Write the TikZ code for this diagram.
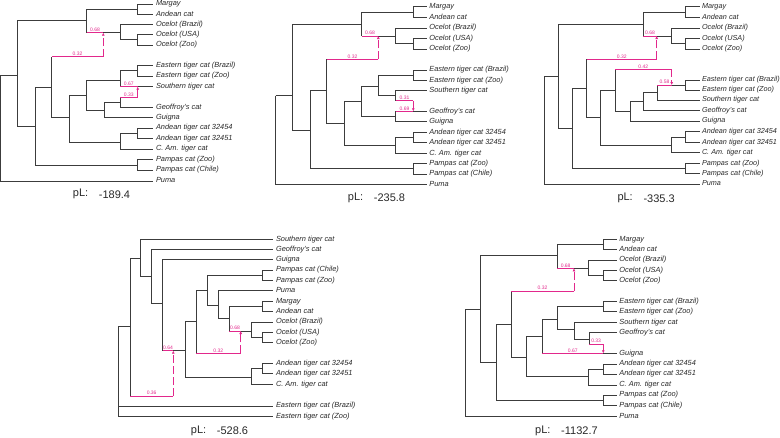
\documentclass[tikz,border=0pt]{standalone}
\usepackage{fontspec}
\setmainfont{Liberation Sans}
\usetikzlibrary{arrows.meta}
\definecolor{pinkc}{RGB}{226,40,140}
\definecolor{linec}{RGB}{60,60,60}
\definecolor{textc}{RGB}{40,40,40}
\newcommand{\leafn}[4]{\node[leaflab] (#1) at (#2,#3) {#4};}
\newcommand{\leafc}[4]{\node[leaflabc] (#1) at (#2,#3) {#4};}
\newcommand{\hmaj}[3]{\draw[br] (#1) -- (#1 |- #2); \draw[hy] (#1 |- #2) -- node[num]{#3} (#2);}
\newcommand{\hmin}[4]{\draw[br] (#1) -- (#1 |- #2); \draw[hy] (#1 |- #2) -- node[num]{#4} (#2); \draw[hyd] (#2) -- (#3);}
\newcommand{\plab}[5]{\node[pltext] (#1a) at (#2,#4) {pL:}; \node[pltext] (#1b) at (#3,#4) {#5};}
\begin{document}
\begin{tikzpicture}[x=1pt,y=-1pt,
  br/.style={draw=linec,line width=0.85pt},
  hy/.style={draw=pinkc,line width=0.85pt},
  hyd/.style={draw=pinkc,line width=0.85pt,dash pattern=on 8pt off 3pt,-{Latex[length=3pt,width=3pt]}},
  leaflab/.style={anchor=west,inner xsep=2.5pt,inner ysep=0pt,text height=5.3pt,text depth=1.5pt,font=\fontsize{7.4}{8}\selectfont\itshape,text=textc},
  leaflabc/.style={anchor=west,inner xsep=1.8pt,inner ysep=0pt,text height=5.3pt,text depth=1.5pt,font=\fontsize{7.25}{8}\selectfont\itshape,text=textc},
  num/.style={above,inner sep=0.6pt,font=\fontsize{5}{5}\selectfont,text=pinkc},
  pltext/.style={anchor=west,inner sep=0pt,font=\fontsize{11}{12}\selectfont,text=textc}]
\useasboundingbox (0,0) rectangle (780,437);

% ================= Tree 1 =================
\leafn{aMargay}{153.3}{4}{Margay}
\leafn{aAndean}{153.3}{14.3}{Andean cat}
\leafn{aOcBr}{153.3}{24.3}{Ocelot (Brazil)}
\leafn{aOcUS}{153.3}{34.3}{Ocelot (USA)}
\leafn{aOcZoo}{153.3}{45}{Ocelot (Zoo)}
\leafn{aEBr}{153.3}{65.7}{Eastern tiger cat (Brazil)}
\leafn{aEZoo}{153.3}{76}{Eastern tiger cat (Zoo)}
\leafn{aSouth}{153.3}{86.7}{Southern tiger cat}
\leafn{aGeof}{153.3}{107.3}{Geoffroy's cat}
\leafn{aGuig}{153.3}{117.7}{Guigna}
\leafn{aA54}{153.3}{128}{Andean tiger cat 32454}
\leafn{aA51}{153.3}{138.3}{Andean tiger cat 32451}
\leafn{aCAm}{153.3}{149}{C. Am. tiger cat}
\leafn{aPZoo}{153.3}{159.3}{Pampas cat (Zoo)}
\leafn{aPCh}{153.3}{170}{Pampas cat (Chile)}
\leafn{aPuma}{153.3}{181}{Puma}
\coordinate (aR) at (0.7,75);
\coordinate (aA) at (17.3,75);
\coordinate (aB) at (86.7,20.7);
\coordinate (aMA) at (137.7,9.3);
\coordinate (aH1) at (103.3,32.7);
\coordinate (aOc) at (120,32.7);
\coordinate (aOUZ) at (137.7,39.3);
\coordinate (aC) at (35,126.7);
\coordinate (aD) at (51.7,87.3);
\coordinate (aM1) at (103.3,56.7);
\coordinate (aPN) at (137.7,165);
\coordinate (aE) at (69,117.3);
\coordinate (aF) at (86.7,95);
\coordinate (aAC) at (120,142.7);
\coordinate (aAN) at (137.7,133.3);
\coordinate (aG) at (120,80);
\coordinate (aEN) at (137.7,70.7);
\coordinate (aH2) at (137.7,86.7);
\coordinate (aHn) at (104,110);
\coordinate (aI) at (120,102.7);
\coordinate (aM2) at (137.7,97.3);
\draw[br] (aR) |- (aA);
\draw[br] (aR) |- (aPuma.west);
\draw[br] (aA) |- (aB);
\draw[br] (aA) |- (aC);
\draw[br] (aB) |- (aMA);
\hmaj{aB}{aH1}{0.68}
\draw[br] (aMA) |- (aMargay.west);
\draw[br] (aMA) |- (aAndean.west);
\draw[br] (aH1) -- (aOc);
\draw[br] (aOc) |- (aOcBr.west);
\draw[br] (aOc) |- (aOUZ);
\draw[br] (aOUZ) |- (aOcUS.west);
\draw[br] (aOUZ) |- (aOcZoo.west);
\draw[br] (aC) |- (aD);
\draw[br] (aC) |- (aPN);
\draw[br] (aPN) |- (aPZoo.west);
\draw[br] (aPN) |- (aPCh.west);
\hmin{aD}{aM1}{aH1}{0.32}
\draw[br] (aD) |- (aE);
\draw[br] (aE) |- (aF);
\draw[br] (aE) |- (aAC);
\draw[br] (aAC) |- (aAN);
\draw[br] (aAC) |- (aCAm.west);
\draw[br] (aAN) |- (aA54.west);
\draw[br] (aAN) |- (aA51.west);
\draw[br] (aF) |- (aG);
\draw[br] (aF) |- (aHn);
\draw[br] (aG) |- (aEN);
\hmaj{aG}{aH2}{0.67}
\draw[br] (aEN) |- (aEBr.west);
\draw[br] (aEN) |- (aEZoo.west);
\draw[br] (aH2) -- (aSouth.west);
\draw[br] (aHn) |- (aI);
\draw[br] (aHn) |- (aGuig.west);
\draw[br] (aI) |- (aGeof.west);
\hmin{aI}{aM2}{aH2}{0.33}
\plab{pa}{72.7}{98.7}{194.3}{-189.4}

% ================= Tree 2 =================
\leafn{bMargay}{426.7}{6.7}{Margay}
\leafn{bAndean}{426.7}{17.3}{Andean cat}
\leafn{bOcBr}{426.7}{28}{Ocelot (Brazil)}
\leafn{bOcUS}{426.7}{38.7}{Ocelot (USA)}
\leafn{bOcZoo}{426.7}{49}{Ocelot (Zoo)}
\leafn{bEBr}{426.7}{70}{Eastern tiger cat (Brazil)}
\leafn{bEZoo}{426.7}{80.3}{Eastern tiger cat (Zoo)}
\leafn{bSouth}{426.7}{90.7}{Southern tiger cat}
\leafn{bGeof}{426.7}{111.3}{Geoffroy's cat}
\leafn{bGuig}{426.7}{121.7}{Guigna}
\leafn{bA54}{426.7}{132.3}{Andean tiger cat 32454}
\leafn{bA51}{426.7}{142.7}{Andean tiger cat 32451}
\leafn{bCAm}{426.7}{153.3}{C. Am. tiger cat}
\leafn{bPZoo}{426.7}{163.7}{Pampas cat (Zoo)}
\leafn{bPCh}{426.7}{174}{Pampas cat (Chile)}
\leafn{bPuma}{426.7}{184.3}{Puma}
\coordinate (bR) at (275.7,95.7);
\coordinate (bA) at (292.3,95.7);
\coordinate (bB) at (361.7,24);
\coordinate (bMA) at (413.3,12.7);
\coordinate (bH1) at (378.3,36);
\coordinate (bOc) at (395.7,36);
\coordinate (bOUZ) at (413.3,43.3);
\coordinate (bC) at (310,130);
\coordinate (bD) at (326.7,90.7);
\coordinate (bM1) at (378.3,59.3);
\coordinate (bPN) at (413.3,168.3);
\coordinate (bE) at (344,123.3);
\coordinate (bF) at (361.7,101);
\coordinate (bAC) at (395.7,145.7);
\coordinate (bAN) at (413.3,137.5);
\coordinate (bG) at (378.3,86);
\coordinate (bEN) at (413.3,75);
\coordinate (bS) at (395.7,95.7);
\coordinate (bM2) at (413.3,100.7);
\coordinate (bH2) at (413.3,111.3);
\coordinate (bHn) at (395.7,116);
\draw[br] (bR) |- (bA);
\draw[br] (bR) |- (bPuma.west);
\draw[br] (bA) |- (bB);
\draw[br] (bA) |- (bC);
\draw[br] (bB) |- (bMA);
\hmaj{bB}{bH1}{0.68}
\draw[br] (bMA) |- (bMargay.west);
\draw[br] (bMA) |- (bAndean.west);
\draw[br] (bH1) -- (bOc);
\draw[br] (bOc) |- (bOcBr.west);
\draw[br] (bOc) |- (bOUZ);
\draw[br] (bOUZ) |- (bOcUS.west);
\draw[br] (bOUZ) |- (bOcZoo.west);
\draw[br] (bC) |- (bD);
\draw[br] (bC) |- (bPN);
\draw[br] (bPN) |- (bPZoo.west);
\draw[br] (bPN) |- (bPCh.west);
\hmin{bD}{bM1}{bH1}{0.32}
\draw[br] (bD) |- (bE);
\draw[br] (bE) |- (bF);
\draw[br] (bE) |- (bAC);
\draw[br] (bAC) |- (bAN);
\draw[br] (bAC) |- (bCAm.west);
\draw[br] (bAN) |- (bA54.west);
\draw[br] (bAN) |- (bA51.west);
\draw[br] (bF) |- (bG);
\draw[br] (bF) |- (bHn);
\draw[br] (bG) |- (bEN);
\draw[br] (bG) |- (bS);
\draw[br] (bEN) |- (bEBr.west);
\draw[br] (bEN) |- (bEZoo.west);
\draw[br] (bS) |- (bSouth.west);
\hmin{bS}{bM2}{bH2}{0.31}
\hmaj{bHn}{bH2}{0.69}
\draw[br] (bHn) |- (bGuig.west);
\draw[br] (bH2) -- (bGeof.west);
\plab{pb}{347.7}{373.7}{198}{-235.8}

% ================= Tree 3 =================
\leafc{cMargay}{700}{6.7}{Margay}
\leafc{cAndean}{700}{17.3}{Andean cat}
\leafc{cOcBr}{700}{28}{Ocelot (Brazil)}
\leafc{cOcUS}{700}{38.7}{Ocelot (USA)}
\leafc{cOcZoo}{700}{49}{Ocelot (Zoo)}
\leafc{cEBr}{700}{80}{Eastern tiger cat (Brazil)}
\leafc{cEZoo}{700}{90}{Eastern tiger cat (Zoo)}
\leafc{cSouth}{700}{100}{Southern tiger cat}
\leafc{cGeof}{700}{110.7}{Geoffroy's cat}
\leafc{cGuig}{700}{121}{Guigna}
\leafc{cA54}{700}{131.7}{Andean tiger cat 32454}
\leafc{cA51}{700}{142.3}{Andean tiger cat 32451}
\leafc{cCAm}{700}{152.7}{C. Am. tiger cat}
\leafc{cPZoo}{700}{163.3}{Pampas cat (Zoo)}
\leafc{cPCh}{700}{173.3}{Pampas cat (Chile)}
\leafc{cPuma}{700}{184}{Puma}
\coordinate (cR) at (544.3,76);
\coordinate (cA) at (558.3,76);
\coordinate (cB) at (643.3,24);
\coordinate (cMA) at (685.7,12.7);
\coordinate (cH1) at (656.7,36);
\coordinate (cOc) at (671.7,36);
\coordinate (cOUZ) at (685.7,43.3);
\coordinate (cC) at (572.3,128.3);
\coordinate (cD) at (586.7,88.3);
\coordinate (cM1) at (656.7,59.3);
\coordinate (cPN) at (685.7,168.3);
\coordinate (cE) at (600.7,117.7);
\coordinate (cF) at (615,90.7);
\coordinate (cAC) at (671.7,145);
\coordinate (cAN) at (685.7,137);
\coordinate (cM2) at (671.7,69.3);
\coordinate (cH2) at (671.7,85);
\coordinate (cEN) at (685.7,85);
\coordinate (cI) at (630,111.2);
\coordinate (cHn) at (643.3,101.5);
\coordinate (cG) at (657.3,92.3);
\draw[br] (cR) |- (cA);
\draw[br] (cR) |- (cPuma.west);
\draw[br] (cA) |- (cB);
\draw[br] (cA) |- (cC);
\draw[br] (cB) |- (cMA);
\hmaj{cB}{cH1}{0.68}
\draw[br] (cMA) |- (cMargay.west);
\draw[br] (cMA) |- (cAndean.west);
\draw[br] (cH1) -- (cOc);
\draw[br] (cOc) |- (cOcBr.west);
\draw[br] (cOc) |- (cOUZ);
\draw[br] (cOUZ) |- (cOcUS.west);
\draw[br] (cOUZ) |- (cOcZoo.west);
\draw[br] (cC) |- (cD);
\draw[br] (cC) |- (cPN);
\draw[br] (cPN) |- (cPZoo.west);
\draw[br] (cPN) |- (cPCh.west);
\hmin{cD}{cM1}{cH1}{0.32}
\draw[br] (cD) |- (cE);
\draw[br] (cE) |- (cF);
\draw[br] (cE) |- (cAC);
\draw[br] (cAC) |- (cAN);
\draw[br] (cAC) |- (cCAm.west);
\draw[br] (cAN) |- (cA54.west);
\draw[br] (cAN) |- (cA51.west);
\hmin{cF}{cM2}{cH2}{0.42}
\draw[br] (cF) |- (cI);
\draw[br] (cI) |- (cHn);
\draw[br] (cI) |- (cGuig.west);
\draw[br] (cHn) |- (cG);
\draw[br] (cHn) |- (cGeof.west);
\hmaj{cG}{cH2}{0.58}
\draw[br] (cG) |- (cSouth.west);
\draw[br] (cH2) -- (cEN);
\draw[br] (cEN) |- (cEBr.west);
\draw[br] (cEN) |- (cEZoo.west);
\plab{pc}{617.3}{643.3}{198.3}{-335.3}

% ================= Tree 4 =================
\leafn{dSouth}{273.3}{239.3}{Southern tiger cat}
\leafn{dGeof}{273.3}{249.3}{Geoffroy's cat}
\leafn{dGuig}{273.3}{259.7}{Guigna}
\leafn{dPCh}{273.3}{270}{Pampas cat (Chile)}
\leafn{dPZoo}{273.3}{280.3}{Pampas cat (Zoo)}
\leafn{dPuma}{273.3}{290.7}{Puma}
\leafn{dMargay}{273.3}{301.3}{Margay}
\leafn{dAndean}{273.3}{311.5}{Andean cat}
\leafn{dOcBr}{273.3}{322}{Ocelot (Brazil)}
\leafn{dOcUS}{273.3}{332.5}{Ocelot (USA)}
\leafn{dOcZoo}{273.3}{342.7}{Ocelot (Zoo)}
\leafn{dA54}{273.3}{363.3}{Andean tiger cat 32454}
\leafn{dA51}{273.3}{373.8}{Andean tiger cat 32451}
\leafn{dCAm}{273.3}{384.2}{C. Am. tiger cat}
\leafn{dEBr}{273.3}{406}{Eastern tiger cat (Brazil)}
\leafn{dEZoo}{273.3}{416.3}{Eastern tiger cat (Zoo)}
\coordinate (dR) at (118.3,326.7);
\coordinate (dA) at (130,326.7);
\coordinate (dB) at (140.7,258.3);
\coordinate (dM0) at (173.3,396);
\coordinate (dHy) at (173.3,350.7);
\coordinate (dC) at (151.7,276);
\coordinate (dD) at (162.7,303.3);
\coordinate (dE) at (185,350.7);
\coordinate (dF) at (196,321.7);
\coordinate (dAC) at (251.7,377.3);
\coordinate (dAN) at (262.3,368.5);
\coordinate (dG) at (207.3,290);
\coordinate (dM1) at (240.7,353.3);
\coordinate (dH1) at (240.7,331);
\coordinate (dPN) at (262.3,275);
\coordinate (dHh) at (218.3,305);
\coordinate (dI) at (229.3,318);
\coordinate (dMA) at (262.3,306.3);
\coordinate (dOc) at (251.7,331);
\coordinate (dOUZ) at (262.3,337.6);
\draw[br] (dR) |- (dA);
\draw[br] (dR) |- (dEBr.west);
\draw[br] (dR) |- (dEZoo.west);
\hmin{dA}{dM0}{dHy}{0.36}
\draw[br] (dA) |- (dB);
\draw[br] (dB) |- (dSouth.west);
\draw[br] (dB) |- (dC);
\draw[br] (dC) |- (dGeof.west);
\draw[br] (dC) |- (dD);
\draw[br] (dD) |- (dGuig.west);
\hmaj{dD}{dHy}{0.64}
\draw[br] (dHy) -- (dE);
\draw[br] (dE) |- (dF);
\draw[br] (dE) |- (dAC);
\draw[br] (dAC) |- (dAN);
\draw[br] (dAC) |- (dCAm.west);
\draw[br] (dAN) |- (dA54.west);
\draw[br] (dAN) |- (dA51.west);
\draw[br] (dF) |- (dG);
\hmin{dF}{dM1}{dH1}{0.32}
\draw[br] (dG) |- (dPN);
\draw[br] (dG) |- (dHh);
\draw[br] (dPN) |- (dPCh.west);
\draw[br] (dPN) |- (dPZoo.west);
\draw[br] (dHh) |- (dPuma.west);
\draw[br] (dHh) |- (dI);
\draw[br] (dI) |- (dMA);
\hmaj{dI}{dH1}{0.68}
\draw[br] (dMA) |- (dMargay.west);
\draw[br] (dMA) |- (dAndean.west);
\draw[br] (dH1) -- (dOc);
\draw[br] (dOc) |- (dOcBr.west);
\draw[br] (dOc) |- (dOUZ);
\draw[br] (dOUZ) |- (dOcUS.west);
\draw[br] (dOUZ) |- (dOcZoo.west);
\plab{pd}{190.7}{216.7}{431}{-528.6}

% ================= Tree 5 =================
\leafn{eMargay}{616.7}{239.3}{Margay}
\leafn{eAndean}{616.7}{249.3}{Andean cat}
\leafn{eOcBr}{616.7}{260}{Ocelot (Brazil)}
\leafn{eOcUS}{616.7}{270.3}{Ocelot (USA)}
\leafn{eOcZoo}{616.7}{280.7}{Ocelot (Zoo)}
\leafn{eEBr}{616.7}{301.7}{Eastern tiger cat (Brazil)}
\leafn{eEZoo}{616.7}{311.7}{Eastern tiger cat (Zoo)}
\leafn{eSouth}{616.7}{322.7}{Southern tiger cat}
\leafn{eGeof}{616.7}{332.7}{Geoffroy's cat}
\leafn{eGuig}{616.7}{353.3}{Guigna}
\leafn{eA54}{616.7}{364}{Andean tiger cat 32454}
\leafn{eA51}{616.7}{374}{Andean tiger cat 32451}
\leafn{eCAm}{616.7}{385}{C. Am. tiger cat}
\leafn{ePZoo}{616.7}{395}{Pampas cat (Zoo)}
\leafn{ePCh}{616.7}{405.7}{Pampas cat (Chile)}
\leafn{ePuma}{616.7}{416.7}{Puma}
\coordinate (eR) at (465,309.3);
\coordinate (eA) at (480.5,309.3);
\coordinate (eB) at (557.3,255);
\coordinate (eMA) at (603.3,244.3);
\coordinate (eH1) at (574,268.3);
\coordinate (eOc) at (588.3,268.3);
\coordinate (eOUZ) at (603.3,275.5);
\coordinate (eC) at (496,362);
\coordinate (eD) at (511,324);
\coordinate (eM1) at (574,291);
\coordinate (ePN) at (603.3,400);
\coordinate (eE) at (526.7,357.3);
\coordinate (eF) at (542.3,336.7);
\coordinate (eAC) at (588.3,376.7);
\coordinate (eAN) at (603.3,369);
\coordinate (eG) at (557.7,319.3);
\coordinate (eH2) at (603.3,353.3);
\coordinate (eEN) at (603.3,306.7);
\coordinate (eHn) at (574,329.3);
\coordinate (eI) at (589,339.3);
\coordinate (eM2) at (603.3,344);
\draw[br] (eR) |- (eA);
\draw[br] (eR) |- (ePuma.west);
\draw[br] (eA) |- (eB);
\draw[br] (eA) |- (eC);
\draw[br] (eB) |- (eMA);
\hmaj{eB}{eH1}{0.68}
\draw[br] (eMA) |- (eMargay.west);
\draw[br] (eMA) |- (eAndean.west);
\draw[br] (eH1) -- (eOc);
\draw[br] (eOc) |- (eOcBr.west);
\draw[br] (eOc) |- (eOUZ);
\draw[br] (eOUZ) |- (eOcUS.west);
\draw[br] (eOUZ) |- (eOcZoo.west);
\draw[br] (eC) |- (eD);
\draw[br] (eC) |- (ePN);
\draw[br] (ePN) |- (ePZoo.west);
\draw[br] (ePN) |- (ePCh.west);
\hmin{eD}{eM1}{eH1}{0.32}
\draw[br] (eD) |- (eE);
\draw[br] (eE) |- (eF);
\draw[br] (eE) |- (eAC);
\draw[br] (eAC) |- (eAN);
\draw[br] (eAC) |- (eCAm.west);
\draw[br] (eAN) |- (eA54.west);
\draw[br] (eAN) |- (eA51.west);
\draw[br] (eF) |- (eG);
\hmaj{eF}{eH2}{0.67}
\draw[br] (eG) |- (eEN);
\draw[br] (eG) |- (eHn);
\draw[br] (eEN) |- (eEBr.west);
\draw[br] (eEN) |- (eEZoo.west);
\draw[br] (eHn) |- (eSouth.west);
\draw[br] (eHn) |- (eI);
\draw[br] (eI) |- (eGeof.west);
\hmin{eI}{eM2}{eH2}{0.33}
\draw[br] (eH2) -- (eGuig.west);
\plab{pe}{535}{561}{431}{-1132.7}
\end{tikzpicture}
\end{document}
